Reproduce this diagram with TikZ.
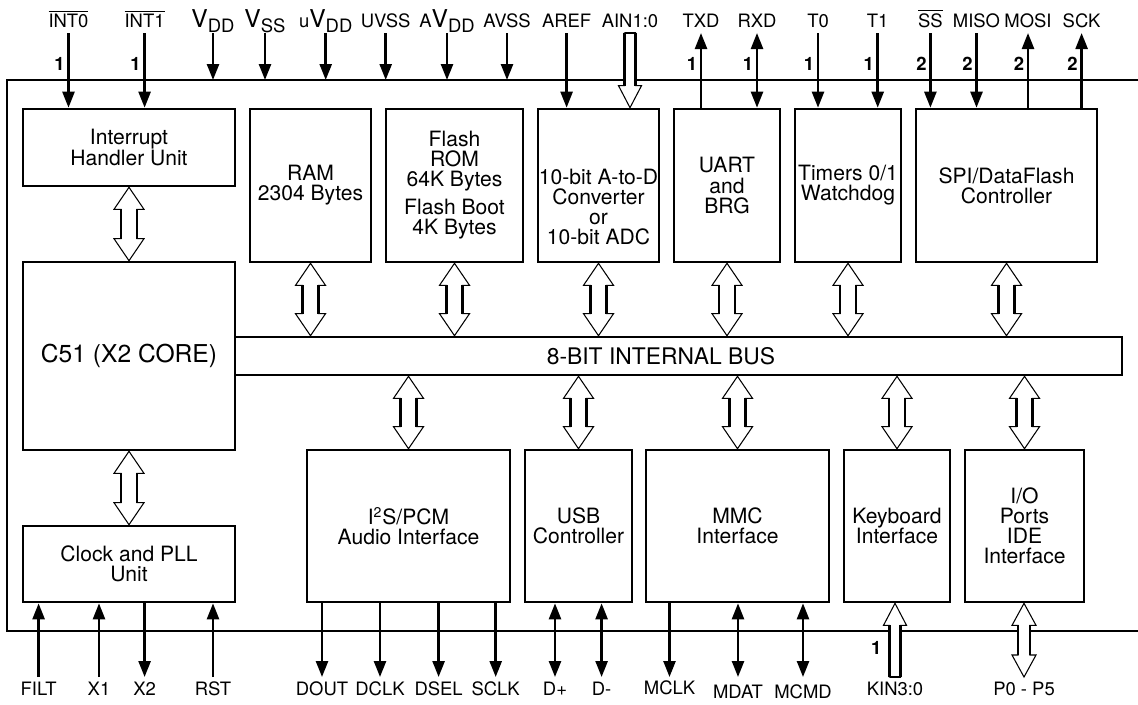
\documentclass[tikz,border=0pt]{standalone}
\usepackage{fontspec}
\setmainfont{TeX Gyre Heros}
\usepackage{tikz}
\usetikzlibrary{arrows.meta,calc,fit}

\newcommand{\ovl}[1]{$\overline{\hbox{#1}}$}
\newcommand{\bigv}[2]{#1{\fontsize{14}{14}\selectfont V}\raisebox{-3pt}{#2}}

% hollow bus arrow, both ends: top, bottom, half head, half shaft
\newcommand{\dblarrow}[4]{%
  \coordinate (ha) at (#1);
  \coordinate (hb) at (#2);
  \draw[line width=0.6pt, fill=white] (ha) -- ++(#3,22) -- ++({#4-#3},0) -- ($(hb)+(#4,-22)$) -- ++({#3-#4},0) -- (hb)
    -- ++(-#3,-22) -- ++({#3-#4},0) -- ($(ha)+(-#4,22)$) -- ++({#4-#3},0) -- cycle;
  \draw[line width=1.4pt] ($(ha)+(#4,22)$) -- ($(hb)+(#4,-22)$) ($(ha)+(-#4,22)$) -- ($(hb)+(-#4,-22)$);
}
% hollow arrow, one end: tip, tail, head length (signed), half head, half shaft
\newcommand{\onearrow}[5]{%
  \coordinate (ha) at (#1);
  \coordinate (hb) at (#2);
  \draw[line width=0.6pt, fill=white] (ha) -- ++(#4,#3) -- ++({#5-#4},0) -- ($(hb)+(#5,0)$) -- ($(hb)+(-#5,0)$)
    -- ($(ha)+(-#5,#3)$) -- ++({#5-#4},0) -- cycle;
  \draw[line width=1.4pt] ($(ha)+(#5,#3)$) -- ($(hb)+(#5,0)$) ($(hb)+(-#5,0)$) -- ($(ha)+(-#5,#3)$);
  \draw[line width=0.9pt] ($(hb)+(#5,0)$) -- ($(hb)+(-#5,0)$);
}

\begin{document}
\begin{tikzpicture}[
    x=0.02cm, y=-0.02cm,
    blk/.style={draw, line width=1.5pt, inner sep=0pt},
    blktxt/.style={align=center, inner sep=0pt, font=\fontsize{12}{11.4}\selectfont},
    pinlbl/.style={anchor=base, inner sep=0pt, font=\fontsize{10.5}{10.5}\selectfont},
    num/.style={left=2pt, inner sep=0pt, font=\fontsize{10.5}{10.5}\selectfont\bfseries},
    sig/.style={line width=1.4pt, -{Triangle[length=0.32cm,width=0.24cm]}},
    bisig/.style={line width=1.4pt, {Triangle[length=0.32cm,width=0.24cm]}-{Triangle[length=0.32cm,width=0.24cm]}}
  ]
  \useasboundingbox (0,0) rectangle (1138,704);

  % chip outline, open to the right
  \coordinate (frametop) at (7,80);
  \coordinate (framebot) at (7,631);
  \draw[line width=0.8pt] (1138,80) -- (frametop) -- (framebot) -- (1138,631);

  \coordinate (toprow) at (0,33);
  \coordinate (numrow) at (0,64);
  \coordinate (botrow) at (0,677);
  \coordinate (kinrow) at (0,648);

  % blocks
  \node[blk, fit={(23,109) (235,186)}, label={[blktxt]center:Interrupt\\Handler Unit}] (intr) {};
  \node[blk, fit={(250,109) (371,262)}, label={[blktxt]center:RAM\\2304 Bytes}] (ram) {};
  \node[blk, fit={(386,109) (523,262)}, label={[blktxt]center:Flash\\ROM\\64K Bytes\\[4.5pt]Flash Boot\\4K Bytes}] (flash) {};
  \node[blk, fit={(538,109) (659,262)}, label={[blktxt, yshift=-12pt]center:10-bit A-to-D\\Converter\\or\\10-bit ADC}] (adc) {};
  \node[blk, fit={(674,109) (780,262)}, label={[blktxt]center:UART\\and\\BRG}] (uart) {};
  \node[blk, fit={(795,109) (901,262)}, label={[blktxt]center:Timers 0/1\\Watchdog}] (tmr) {};
  \node[blk, fit={(916,109) (1097,262)}, label={[blktxt]center:SPI/DataFlash\\Controller}] (spi) {};
  \node[blk, fit={(23,262) (235,450)}, label={[blktxt, font=\fontsize{14}{14}\selectfont]center:C51 (X2 CORE)}] (core) {};
  \node[blk, fit={(235,337) (1122,375)}, label={[blktxt, xshift=-10pt, font=\fontsize{13}{13}\selectfont]center:8-BIT INTERNAL BUS}] (bus) {};
  \node[blk, fit={(23,526) (235,602)}, label={[blktxt]center:Clock and PLL\\Unit}] (clk) {};
  \node[blk, fit={(307,450) (510,602)}, label={[blktxt]center:I\textsuperscript{2}S/PCM\\Audio Interface}] (i2s) {};
  \node[blk, fit={(525,450) (632,602)}, label={[blktxt]center:USB\\Controller}] (usb) {};
  \node[blk, fit={(646,450) (829,602)}, label={[blktxt]center:MMC\\Interface}] (mmc) {};
  \node[blk, fit={(844,450) (950,602)}, label={[blktxt]center:Keyboard\\Interface}] (kbd) {};
  \node[blk, fit={(965,450) (1084,602)}, label={[blktxt]center:I/O\\Ports\\IDE\\Interface}] (io) {};

  % internal buses
  \dblarrow{intr.south}{core.north}{15}{8}
  \dblarrow{core.south}{clk.north}{15}{8}
  \dblarrow{ram.south}{ram.south |- bus.north}{15}{8}
  \dblarrow{flash.south}{flash.south |- bus.north}{15}{8}
  \dblarrow{adc.south}{adc.south |- bus.north}{15}{8}
  \dblarrow{uart.south}{uart.south |- bus.north}{15}{8}
  \dblarrow{tmr.south}{tmr.south |- bus.north}{15}{8}
  \dblarrow{spi.south}{spi.south |- bus.north}{15}{8}
  \dblarrow{i2s.north |- bus.south}{i2s.north}{15}{8}
  \dblarrow{usb.north |- bus.south}{usb.north}{15}{8}
  \dblarrow{mmc.north |- bus.south}{mmc.north}{15}{8}
  \dblarrow{kbd.north |- bus.south}{kbd.north}{15}{8}
  \dblarrow{io.north |- bus.south}{io.north}{15}{8}

  % top pins
  \node[pinlbl] (int0) at (68.5,27) {\ovl{INT0}};
  \node[pinlbl] (int1) at (144.6,27) {\ovl{INT1}};
  \node[pinlbl] (vdd) at (213,27) {\bigv{}{DD}};
  \node[pinlbl] (vss) at (265,27) {\bigv{}{SS}};
  \node[pinlbl] (uvdd) at (325.7,27) {\bigv{u}{DD}};
  \node[pinlbl] (uvss) at (385.7,27) {UVSS};
  \node[pinlbl] (avdd) at (447,27) {\bigv{A}{DD}};
  \node[pinlbl] (avss) at (507,27) {AVSS};
  \node[pinlbl] (aref) at (566.6,27) {AREF};
  \node[pinlbl] (ain) at (630,27) {AIN1:0};
  \node[pinlbl] (txd) at (701,27) {TXD};
  \node[pinlbl] (rxd) at (757,27) {RXD};
  \node[pinlbl] (tzero) at (818,27) {T0};
  \node[pinlbl] (tone) at (877.7,27) {T1};
  \node[pinlbl] (ss) at (930.4,27) {\ovl{SS}};
  \node[pinlbl] (miso) at (976.5,27) {MISO};
  \node[pinlbl] (mosi) at (1028,27) {MOSI};
  \node[pinlbl] (sck) at (1081.6,27) {SCK};

  \draw[sig] (int0 |- toprow) -- (int0 |- intr.north);
  \draw[sig] (int1 |- toprow) -- (int1 |- intr.north);
  \draw[sig] (vdd |- toprow) -- (vdd |- frametop);
  \draw[sig] (vss |- toprow) -- (vss |- frametop);
  \draw[sig] (uvdd |- toprow) -- (uvdd |- frametop);
  \draw[sig] (uvss |- toprow) -- (uvss |- frametop);
  \draw[sig] (avdd |- toprow) -- (avdd |- frametop);
  \draw[sig] (avss |- toprow) -- (avss |- frametop);
  \draw[sig] (aref |- toprow) -- (aref |- adc.north);
  \onearrow{ain |- adc.north}{ain |- toprow}{-22}{11.5}{5.5}
  \draw[sig] (txd |- uart.north) -- (txd |- toprow);
  \draw[bisig] (rxd |- toprow) -- (rxd |- uart.north);
  \draw[sig] (tzero |- toprow) -- (tzero |- tmr.north);
  \draw[sig] (tone |- toprow) -- (tone |- tmr.north);
  \draw[sig] (ss |- toprow) -- (ss |- spi.north);
  \draw[sig] (miso |- toprow) -- (miso |- spi.north);
  \draw[sig] (mosi |- spi.north) -- (mosi |- toprow);
  \draw[sig] (sck |- spi.north) -- (sck |- toprow);

  \node[num] (nint0) at (int0 |- numrow) {1};
  \node[num] (nint1) at (int1 |- numrow) {1};
  \node[num] (ntxd) at (txd |- numrow) {1};
  \node[num] (nrxd) at (rxd |- numrow) {1};
  \node[num] (ntzero) at (tzero |- numrow) {1};
  \node[num] (ntone) at (tone |- numrow) {1};
  \node[num] (nss) at (ss |- numrow) {2};
  \node[num] (nmiso) at (miso |- numrow) {2};
  \node[num] (nmosi) at (mosi |- numrow) {2};
  \node[num] (nsck) at (sck |- numrow) {2};

  % bottom pins
  \node[pinlbl] (filt) at (38.6,695) {FILT};
  \node[pinlbl] (xone) at (99,695) {X1};
  \node[pinlbl] (xtwo) at (144.6,695) {X2};
  \node[pinlbl] (rst) at (213,695) {RST};
  \node[pinlbl] (dout) at (322,695) {DOUT};
  \node[pinlbl] (dclk) at (380,695) {DCLK};
  \node[pinlbl] (dsel) at (438.6,695) {DSEL};
  \node[pinlbl] (sclk) at (495.7,695) {SCLK};
  \node[pinlbl] (dplus) at (555,695) {D+};
  \node[pinlbl] (dminus) at (601.6,695) {D-};
  \node[pinlbl] (mclk) at (669.5,694) {MCLK};
  \node[pinlbl] (mdat) at (738,698) {MDAT};
  \node[pinlbl] (mcmd) at (803,698) {MCMD};
  \node[pinlbl] (kin) at (895,695) {KIN3:0};
  \node[pinlbl] (pports) at (1024,695) {P0 - P5};

  \draw[sig] (filt |- botrow) -- (filt |- clk.south);
  \draw[sig] (xone |- botrow) -- (xone |- clk.south);
  \draw[sig] (xtwo |- clk.south) -- (xtwo |- botrow);
  \draw[sig] (rst |- botrow) -- (rst |- clk.south);
  \draw[sig] (dout |- i2s.south) -- (dout |- botrow);
  \draw[sig] (dclk |- i2s.south) -- (dclk |- botrow);
  \draw[sig] (dsel |- i2s.south) -- (dsel |- botrow);
  \draw[sig] (sclk |- i2s.south) -- (sclk |- botrow);
  \draw[bisig] (dplus |- usb.south) -- (dplus |- botrow);
  \draw[bisig] (dminus |- usb.south) -- (dminus |- botrow);
  \draw[sig] (mclk |- mmc.south) -- (mclk |- botrow);
  \draw[bisig] (mdat |- mmc.south) -- (mdat |- botrow);
  \draw[bisig] (mcmd |- mmc.south) -- (mcmd |- botrow);
  \onearrow{kin |- kbd.south}{kin |- botrow}{22}{11.5}{5.5}
  \node[num, left=5.5pt] (nkin) at (kin |- kinrow) {1};
  \dblarrow{pports |- io.south}{pports |- botrow}{12}{6}
\end{tikzpicture}
\end{document}
